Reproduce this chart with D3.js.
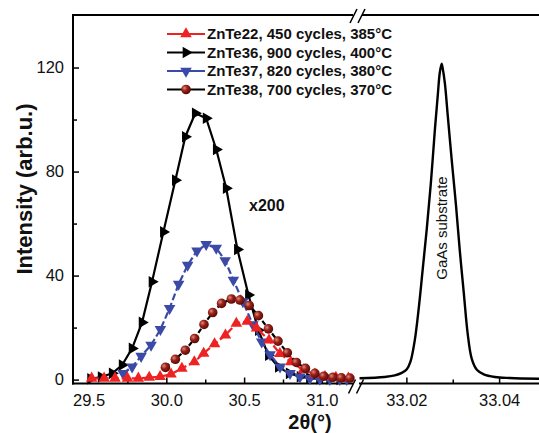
<!DOCTYPE html>
<html><head><meta charset="utf-8">
<script src="https://cdn.jsdelivr.net/npm/d3@7"></script>
<style>
body{margin:0;background:#fff;}
text{font-family:"Liberation Sans",Arial,sans-serif;}
</style></head>
<body><svg id="c" width="539" height="433"></svg>
<script>
// ---- data ----
const zte36X = [29.513,29.581,29.652,29.716,29.780,29.844,29.908,29.981,30.058,30.122,30.186,30.256,30.321,30.385,30.457,30.528,30.592,30.656,30.720,30.790,30.860,30.920,30.985,31.050,31.115];
const zte36Y = [0.3,1.0,2.4,5.6,12,22,37.6,56.8,76.7,93.4,102.4,100.5,88.5,73.6,50,32.5,19,9.4,4.9,2.4,1.1,0.6,0.3,0.2,0.1];

const zte37X = [29.722,29.780,29.838,29.902,29.962,30.021,30.079,30.137,30.197,30.256,30.321,30.378,30.431,30.492,30.556,30.613,30.667,30.731,30.795,30.859,30.923,30.987,31.051,31.115,31.160];
const zte37Y = [2.4,4.9,9,13.3,19.3,27.4,36.7,44,49.5,52,50.6,45.8,38.3,30,21.2,14.5,9.6,4.9,2.4,1.1,0.5,0.2,0.1,0.1,0.1];

const zte22X = [29.52,29.60,29.67,29.75,29.82,29.89,29.96,30.03,30.10,30.18,30.24,30.31,30.38,30.45,30.52,30.58,30.66,30.73,30.80,30.88,30.955,31.02,31.09,31.17];
const zte22Y = [0.5,0.5,0.5,0.5,0.5,0.8,1.1,2.1,4.3,6.8,10.1,13.7,17.1,21.6,22.4,19.8,15.2,10,6.8,3.7,2.1,1.1,0.8,0.5];

const zte38X = [29.994,30.058,30.122,30.182,30.242,30.298,30.355,30.418,30.473,30.533,30.592,30.656,30.718,30.778,30.836,30.894,30.955,31.012,31.071,31.125,31.180];
const zte38Y = [4.7,7.8,11.3,15.8,21.2,25.8,29.3,31,30.6,28.5,24.6,19.5,14.8,10.3,6.6,4.3,2.4,1.3,0.9,0.7,0.6];

const gaasX = [33.0099,33.0153,33.0175,33.0190,33.0201,33.0209,33.0218,33.0227,33.0235,33.0244,33.0253,33.0261,33.0268,33.0272,33.0276,33.0278,33.0283,33.0289,33.0298,33.0307,33.0315,33.0324,33.0332,33.0341,33.0352,33.0367,33.0391,33.0423,33.0486];
const gaasY = [0.5,1.0,1.6,2.6,4.0,7,15,28,42,58,76,95,110,118,121.5,120,114,102,84,67,50,33,18,8,3.8,2.0,1.0,0.6,0.3];

const legendLabels = ["ZnTe22, 450 cycles, 385°C","ZnTe36, 900 cycles, 400°C","ZnTe37, 820 cycles, 380°C","ZnTe38, 700 cycles, 370°C"];
const yMajor = [0,40,80,120], yMinor = [20,60,100];
const xLMajor = [29.5,30.0,30.5,31.0], xLMinor = [29.75,30.25,30.75];
const xRMajor = [33.02,33.04], xRMinor = [33.03];

// ---- scales ----
const svg = d3.select("#c");
const xL = d3.scaleLinear().domain([29.4,31.2]).range([73,353]);
const xR = d3.scaleLinear().domain([33.01,33.0486]).range([360,539]);
const y = d3.scaleLinear().domain([-1.5,140.2]).range([383.5,15]);

const RED="#ee2222", BLUE="#3a4aa6", DRED="#8a1a12";

// defs for ball
const defs = svg.append("defs");
const rg = defs.append("radialGradient").attr("id","ball").attr("cx","35%").attr("cy","35%").attr("r","65%");
rg.append("stop").attr("offset","0%").attr("stop-color","#e08a80");
rg.append("stop").attr("offset","45%").attr("stop-color","#9a2218");
rg.append("stop").attr("offset","100%").attr("stop-color","#5a0c08");

// ---- axes ----
const fmt1 = d3.format(".1f"), fmt2 = d3.format(".2f");
function xAxis(scale, major, minor, f){
  const g = svg.append("g").attr("transform","translate(0,383.5)");
  g.call(d3.axisBottom(scale).tickValues(major).tickSize(-6).tickPadding(10.5).tickFormat(f));
  g.append("g").call(d3.axisBottom(scale).tickValues(minor).tickSize(-4).tickFormat(""));
  g.selectAll(".domain").remove();
  g.selectAll("line").attr("stroke","#000").attr("stroke-width",1.5);
  g.selectAll("text").attr("font-size",16.5).attr("fill","#111");
}
xAxis(xL, xLMajor, xLMinor, fmt1);
xAxis(xR, xRMajor, xRMinor, fmt2);
const gy = svg.append("g").attr("transform","translate(73,0)");
gy.call(d3.axisLeft(y).tickValues(yMajor).tickSize(-6).tickPadding(9).tickFormat(d3.format("d")));
gy.append("g").call(d3.axisLeft(y).tickValues(yMinor).tickSize(-4).tickFormat(""));
gy.selectAll(".domain").remove();
gy.selectAll("line").attr("stroke","#000").attr("stroke-width",1.5);
gy.selectAll("text").attr("font-size",16.5).attr("fill","#111");

// frame lines with breaks
const ax = svg.append("g").attr("stroke","#000").attr("stroke-width",2).attr("fill","none");
ax.append("line").attr("x1",73).attr("x2",73).attr("y1",14).attr("y2",384.5);
ax.append("line").attr("x1",72).attr("x2",353).attr("y1",383.5).attr("y2",383.5);
ax.append("line").attr("x1",359).attr("x2",539).attr("y1",383.5).attr("y2",383.5);
ax.append("line").attr("x1",72).attr("x2",353).attr("y1",15).attr("y2",15);
ax.append("line").attr("x1",362).attr("x2",539).attr("y1",15).attr("y2",15);
function brk(cx, cy){
  [-4,4].forEach(d=>{
    ax.append("line").attr("x1",cx+d-3.5).attr("y1",cy+7).attr("x2",cx+d+3.5).attr("y2",cy-7).attr("stroke-width",1.6);
  });
}
brk(356,386.5); brk(357.5,16);

// ---- series ----
const lineL = d3.line().x(d=>xL(d[0])).y(d=>y(d[1]));
function zipped(X,Y){return X.map((v,i)=>[v,Y[i]]);}
const tri = d3.symbol().type(d3.symbolTriangle).size(58);

function series(X,Y,lineColor,dash,marker){
  const data = zipped(X,Y);
  const g = svg.append("g");
  g.append("path").attr("d",lineL(data)).attr("fill","none").attr("stroke",lineColor)
    .attr("stroke-width",2.2).attr("stroke-dasharray",dash);
  data.forEach(d=>marker(g, xL(d[0]), y(d[1])));
}
function mkTri(color,rot){ return (g,px,py)=> g.append("path").attr("d",tri()).attr("fill",color)
    .attr("transform",`translate(${px},${py}) rotate(${rot})`); }
function mkBall(g,px,py){ g.append("circle").attr("cx",px).attr("cy",py).attr("r",4.8).attr("fill","url(#ball)"); }

series(zte36X, zte36Y, "#000", null, mkTri("#000",90));
series(zte37X, zte37Y, BLUE, "7,3", mkTri(BLUE,180));
series(zte22X, zte22Y, RED, "7,3", mkTri(RED,0));
series(zte38X, zte38Y, "#000", "5,3", mkBall);

// GaAs
const lineR = d3.line().x(d=>xR(d[0])).y(d=>y(d[1])).curve(d3.curveCatmullRom.alpha(0.5));
svg.append("path").attr("d",lineR(zipped(gaasX,gaasY))).attr("fill","none").attr("stroke","#000").attr("stroke-width",2.4);

// ---- labels ----
svg.append("text").attr("transform",`translate(${xR(33.0276)+5},228) rotate(-90)`).attr("text-anchor","middle")
  .attr("font-size",15).attr("fill","#111").text("GaAs substrate");
svg.append("text").attr("x",249).attr("y",211).attr("font-size",16).attr("font-weight","bold").attr("fill","#111").text("x200");
svg.append("text").attr("transform","translate(32,189) rotate(-90)").attr("text-anchor","middle")
  .attr("font-size",22).attr("font-weight","bold").attr("fill","#111").text("Intensity (arb.u.)");
svg.append("text").attr("x",310).attr("y",429).attr("text-anchor","middle")
  .attr("font-size",20).attr("font-weight","bold").attr("fill","#111").text("2θ(°)");

// ---- legend ----
const legCfg = [
  {c:RED, m:mkTri(RED,0)},
  {c:"#000", m:mkTri("#000",90)},
  {c:BLUE, m:mkTri(BLUE,180)},
  {c:"#000", m:mkBall}
];
const legY = [34,52.5,71,89.5];
legCfg.forEach((L,i)=>{
  const g = svg.append("g");
  g.append("line").attr("x1",167).attr("x2",205).attr("y1",legY[i]).attr("y2",legY[i]).attr("stroke",L.c).attr("stroke-width",2.2);
  L.m(g,186,legY[i]);
  g.append("text").attr("x",207).attr("y",legY[i]+5.3).attr("font-size",15).attr("font-weight","bold").attr("fill","#111").text(legendLabels[i]);
});
</script></body></html>
